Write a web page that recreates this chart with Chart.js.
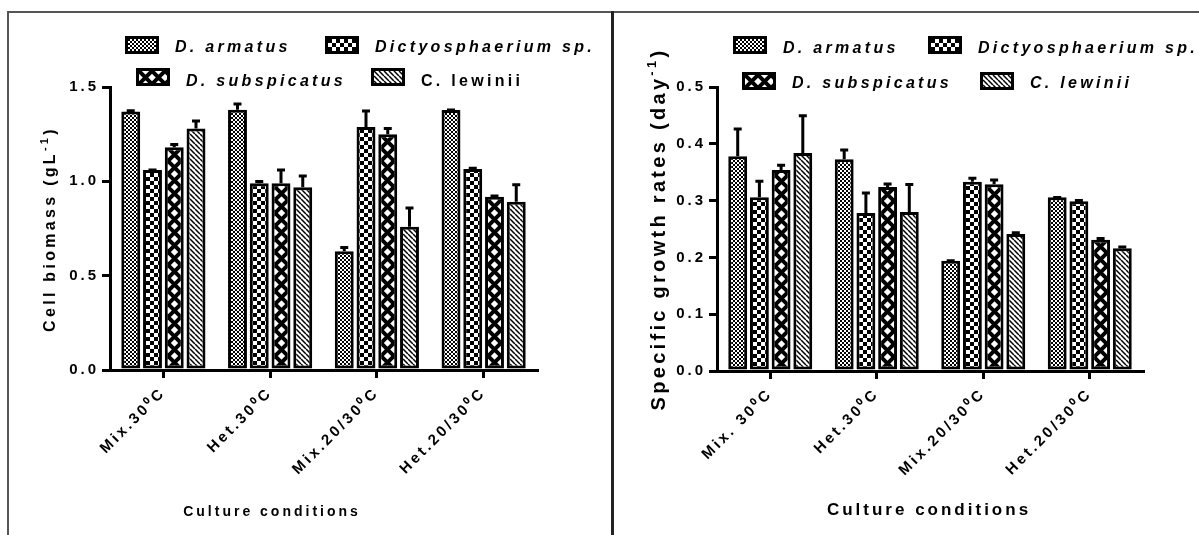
<!DOCTYPE html>
<html>
<head>
<meta charset="utf-8">
<script src="https://cdn.jsdelivr.net/npm/chart.js@4.4.1/dist/chart.umd.min.js"></script>
<style>
  html, body { margin: 0; padding: 0; background: #fff; }
  body { width: 1199px; height: 535px; position: relative; overflow: hidden; }
  #frame { position: absolute; left: 7px; top: 11px; width: 1192px; height: 524px; border-top: 2px solid #555; border-left: 2px solid #555; box-sizing: border-box; }
  #divider { position: absolute; left: 611px; top: 11px; width: 3px; height: 524px; background: #222; }
  canvas { position: absolute; top: 0; }
  #biomass { left: 0; }
  #growth { left: 613px; }
</style>
</head>
<body>
<div id="frame"></div>
<div id="divider"></div>
<canvas id="biomass" width="611" height="535"></canvas>
<canvas id="growth" width="586" height="535"></canvas>
<script>
// categories and series
const biomassCategories = ['Mix.30⁰C', 'Het.30⁰C', 'Mix.20/30⁰C', 'Het.20/30⁰C'];
const growthCategories = ['Mix. 30⁰C', 'Het.30⁰C', 'Mix.20/30⁰C', 'Het.20/30⁰C'];
const species = ['D. armatus', 'Dictyosphaerium sp.', 'D. subspicatus', 'C. lewinii'];

const biomassArmatus = [1.37, 1.38, 0.63, 1.378];
const biomassDictyo = [1.06, 0.99, 1.288, 1.065];
const biomassSubspicatus = [1.18, 0.99, 1.25, 0.918];
const biomassLewinii = [1.28, 0.968, 0.759, 0.892];
const biomassArmatusErr = [0.01, 0.035, 0.025, 0.006];
const biomassDictyoErr = [0.006, 0.015, 0.09, 0.01];
const biomassSubspicatusErr = [0.02, 0.075, 0.035, 0.01];
const biomassLewiniiErr = [0.045, 0.065, 0.105, 0.095];

const growthArmatus = [0.378, 0.373, 0.194, 0.306];
const growthDictyo = [0.306, 0.278, 0.333, 0.299];
const growthSubspicatus = [0.354, 0.324, 0.329, 0.231];
const growthLewinii = [0.384, 0.28, 0.241, 0.216];
const growthArmatusErr = [0.05, 0.018, 0.002, 0.001];
const growthDictyoErr = [0.03, 0.037, 0.008, 0.003];
const growthSubspicatusErr = [0.01, 0.007, 0.009, 0.004];
const growthLewiniiErr = [0.067, 0.05, 0.004, 0.004];

const biomassTicks = [0.0, 0.5, 1.0, 1.5];
const growthTicks = [0.0, 0.1, 0.2, 0.3, 0.4, 0.5];

const FONT = "'Liberation Sans', Arial, sans-serif";
Chart.defaults.font.family = FONT;
Chart.defaults.font.weight = 'bold';
Chart.defaults.color = '#000';

// fill tiles, one per species
function makeTile(kind) {
  const c = document.createElement('canvas');
  const g = c.getContext('2d');
  if (kind === 0) {
    c.width = c.height = 4;
    g.fillStyle = '#fff'; g.fillRect(0, 0, 4, 4);
    g.fillStyle = '#000'; g.fillRect(0, 0, 2, 2); g.fillRect(2, 2, 2, 2);
  } else if (kind === 1) {
    c.width = c.height = 8;
    g.fillStyle = '#fff'; g.fillRect(0, 0, 8, 8);
    g.fillStyle = '#000'; g.fillRect(0, 0, 4, 4); g.fillRect(4, 4, 4, 4);
  } else if (kind === 2) {
    c.width = 13; c.height = 13;
    g.fillStyle = '#fff'; g.fillRect(0, 0, 13, 13);
    g.strokeStyle = '#000'; g.lineWidth = 4;
    g.beginPath();
    g.moveTo(-3, -3); g.lineTo(16, 16);
    g.moveTo(16, -3); g.lineTo(-3, 16);
    g.stroke();
  } else {
    c.width = c.height = 5;
    g.fillStyle = '#fff'; g.fillRect(0, 0, 5, 5);
    g.strokeStyle = '#000'; g.lineWidth = 1.5;
    g.beginPath();
    [-5, 0, 5].forEach(k => { g.moveTo(k, 0); g.lineTo(k + 5, 5); });
    g.stroke();
  }
  return c;
}
const tiles = [0, 1, 2, 3].map(makeTile);

function pattern(ctx, i, x, y) {
  const p = ctx.createPattern(tiles[i], 'repeat');
  p.setTransform(new DOMMatrix([1, 0, 0, 1, x, y]));
  return p;
}

// wide letter spacing for every text on the canvas
const spacing = {
  id: 'spacing',
  beforeLayout(chart) { chart.ctx.letterSpacing = '3px'; },
  beforeDraw(chart) { chart.ctx.letterSpacing = '3px'; }
};

// line the fills up with each bar's own edge
const patternAlign = {
  id: 'patternAlign',
  beforeDatasetsDraw(chart) {
    chart.data.datasets.forEach((ds, i) => {
      chart.getDatasetMeta(i).data.forEach(bar => {
        const p = pattern(chart.ctx, i, Math.round(bar.x - bar.width / 2) + 3, Math.round(bar.base));
        bar.options = Object.assign({}, bar.options, { backgroundColor: p });
      });
    });
  }
};

// upward error bars with caps
const errorBars = {
  id: 'errorBars',
  afterDatasetsDraw(chart) {
    const ctx = chart.ctx, y = chart.scales.y;
    ctx.save();
    ctx.strokeStyle = '#000';
    ctx.lineWidth = 3;
    chart.data.datasets.forEach((ds, i) => {
      chart.getDatasetMeta(i).data.forEach((bar, j) => {
        const top = y.getPixelForValue(ds.data[j] + ds.errors[j]);
        ctx.beginPath();
        ctx.moveTo(bar.x, bar.y);
        ctx.lineTo(bar.x, top);
        ctx.moveTo(bar.x - 4, top + 1);
        ctx.lineTo(bar.x + 4, top + 1);
        ctx.stroke();
      });
    });
    ctx.restore();
  }
};

function drawRich(ctx, parts, x, y, angle) {
  ctx.save();
  ctx.translate(x, y);
  ctx.rotate(angle);
  ctx.textAlign = 'left';
  ctx.textBaseline = 'alphabetic';
  let total = 0;
  parts.forEach(p => { ctx.font = p.font; p.w = ctx.measureText(p.text).width; total += p.w; });
  let cx = -total / 2;
  parts.forEach(p => { ctx.font = p.font; ctx.fillText(p.text, cx, p.dy || 0); cx += p.w; });
  ctx.restore();
}

// legend and axis titles
const decorations = {
  id: 'decorations',
  afterDraw(chart, args, o) {
    const ctx = chart.ctx;
    ctx.save();
    ctx.fillStyle = '#000';
    ctx.letterSpacing = '3.3px';
    o.legend.forEach((it, i) => {
      ctx.fillStyle = '#000';
      ctx.fillRect(it.x, it.top, 34, 18);
      ctx.fillStyle = pattern(ctx, i, it.x + 3, it.top + 3);
      ctx.fillRect(it.x + 3, it.top + 3, 28, 12);
      ctx.fillStyle = '#000';
      ctx.font = (o.italic[i] ? 'italic ' : '') + 'bold 16px ' + FONT;
      ctx.textBaseline = 'alphabetic';
      ctx.fillText(species[i], it.x + 50, it.base);
    });
    ctx.letterSpacing = o.yTitle.spacing;
    drawRich(ctx, o.yTitle.parts, o.yTitle.x, o.yTitle.y, -Math.PI / 2);
    ctx.letterSpacing = '3px';
    drawRich(ctx, o.xTitle.parts, o.xTitle.x, o.xTitle.y, 0);
    ctx.restore();
  }
};

function buildChart(id, categories, series, errors, ticks, geo, deco) {
  return new Chart(document.getElementById(id), {
    type: 'bar',
    data: {
      labels: categories,
      datasets: series.map((s, i) => ({
        label: species[i],
        data: s,
        errors: errors[i],
        backgroundColor: '#fff',
        borderColor: '#000',
        borderWidth: 3,
        borderSkipped: false,
        inflateAmount: 0,
        barPercentage: 0.87,
        categoryPercentage: 0.815
      }))
    },
    options: {
      responsive: false,
      animation: false,
      events: [],
      layout: { padding: { top: 87, right: geo.right, left: 0, bottom: 0 } },
      scales: {
        x: {
          grid: { drawOnChartArea: false, offset: false, color: '#000', lineWidth: 3, tickLength: 8 },
          border: { display: true, color: '#000', width: 3 },
          ticks: { autoSkip: false, minRotation: 45, maxRotation: 45, padding: 6, font: { size: 15, weight: 'bold' } },
          afterFit: s => { s.height = geo.xHeight; }
        },
        y: {
          min: ticks[0],
          max: ticks[ticks.length - 1],
          afterBuildTicks: s => { s.ticks = ticks.map(v => ({ value: v })); },
          grid: { drawOnChartArea: false, color: '#000', lineWidth: 3, tickLength: 8 },
          border: { display: true, color: '#000', width: 3 },
          ticks: { padding: 3, font: { size: 15, weight: 'bold' }, callback: v => Number(v).toFixed(1) },
          afterFit: s => { s.width = geo.yWidth; }
        }
      },
      plugins: {
        legend: { display: false },
        tooltip: { enabled: false },
        decorations: deco
      }
    },
    plugins: [spacing, patternAlign, errorBars, decorations]
  });
}

buildChart('biomass', biomassCategories,
  [biomassArmatus, biomassDictyo, biomassSubspicatus, biomassLewinii],
  [biomassArmatusErr, biomassDictyoErr, biomassSubspicatusErr, biomassLewiniiErr],
  biomassTicks,
  { right: 74, xHeight: 165, yWidth: 110 },
  {
    italic: [true, true, true, false],
    legend: [{ x: 125, top: 36, base: 52 }, { x: 325, top: 36, base: 52 }, { x: 136, top: 68, base: 86 }, { x: 371, top: 68, base: 86 }],
    yTitle: { x: 55, y: 229, spacing: '3.3px', parts: [
      { text: 'Cell biomass (gL', font: 'bold 16px ' + FONT },
      { text: '-1', font: 'bold 11px ' + FONT, dy: -7 },
      { text: ')', font: 'bold 16px ' + FONT }
    ] },
    xTitle: { x: 272, y: 516, parts: [{ text: 'Culture conditions', font: 'bold 14px ' + FONT }] }
  });

buildChart('growth', growthCategories,
  [growthArmatus, growthDictyo, growthSubspicatus, growthLewinii],
  [growthArmatusErr, growthDictyoErr, growthSubspicatusErr, growthLewiniiErr],
  growthTicks,
  { right: 56, xHeight: 164, yWidth: 104 },
  {
    italic: [true, true, true, true],
    legend: [{ x: 120, top: 36, base: 53 }, { x: 315, top: 36, base: 53 }, { x: 129, top: 72, base: 88 }, { x: 367, top: 72, base: 88 }],
    yTitle: { x: 52, y: 229, spacing: '3.3px', parts: [
      { text: 'Specific growth rates (day', font: 'bold 20px ' + FONT },
      { text: '-1', font: 'bold 13px ' + FONT, dy: -9 },
      { text: ')', font: 'bold 20px ' + FONT }
    ] },
    xTitle: { x: 316, y: 515, parts: [{ text: 'Culture conditions', font: 'bold 17px ' + FONT }] }
  });
</script>
</body>
</html>
